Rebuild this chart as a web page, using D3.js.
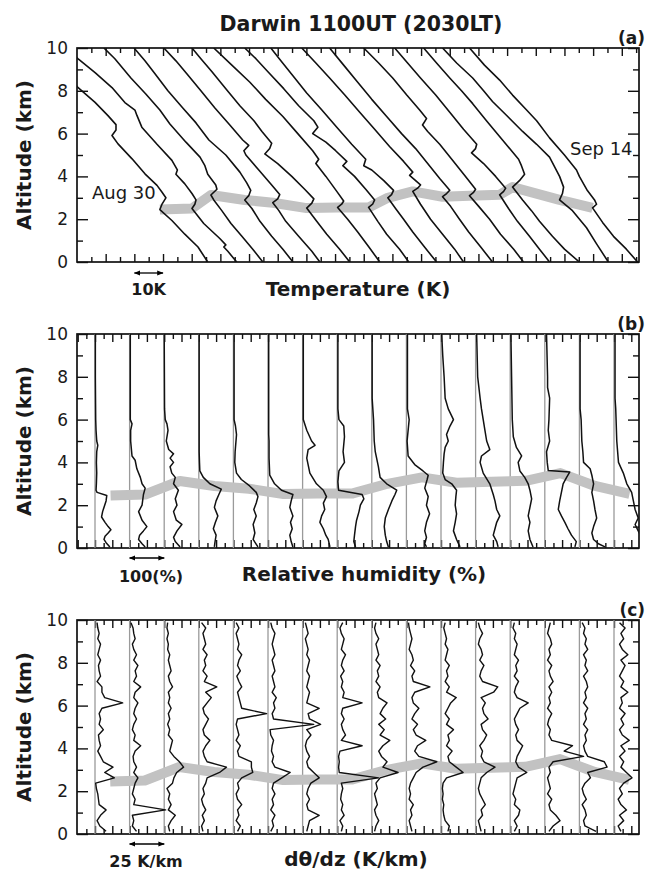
<!DOCTYPE html>
<html>
<head>
<meta charset="utf-8">
<script src="https://cdn.jsdelivr.net/npm/d3@7"></script>
<style>
  body { margin: 0; background: #fff; }
  svg { display: block; }
  text { font-family: "DejaVu Sans", sans-serif; fill: #1a1a1a; }
</style>
</head>
<body>
<script>
// ===== Dates (one sounding per day) =====
const dates = ["Aug 30", "Aug 31", "Sep 1", "Sep 2", "Sep 3", "Sep 4", "Sep 5", "Sep 6",
  "Sep 7", "Sep 8", "Sep 9", "Sep 10", "Sep 11", "Sep 12", "Sep 13", "Sep 14"];

// inversion base height (km) for each day -> thick grey line
const invHeight = [2.45, 2.5, 3.13, 2.9, 2.77, 2.52, 2.55, 2.55, 3.0, 3.3, 3.05, 3.1, 3.14, 3.5, 2.9, 2.53];

// ===== (a) temperature profiles : [altitude km, T (K)] =====
const t0830 = [[0,295.6],[0.7,292.2],[1.3,287.6],[1.94,283.1],[2.45,278.9],[2.69,279.6],[3.0,281.0],[3.27,279.6],[3.58,277.9],[4.12,273.7],[4.82,269.2],[5.52,264.3],[5.91,262.2],[6.17,263.6],[6.42,263.6],[6.84,260.8],[7.46,256.3],[8.16,250.3],[9,244.8],[10,238.9]];
const t0831 = [[0,295.7],[0.5,292.6],[0.7,291.2],[0.8,291.9],[1.1,289.8],[1.8,284.2],[2.5,280.1],[2.7,281.1],[2.9,281.5],[3.2,280.1],[3.65,277.6],[4.1,274.5],[4.3,275.0],[4.75,273.1],[5.5,267.9],[6.3,262.6],[6.85,260.9],[7.1,260.2],[7.45,256.7],[8.15,252.2],[8.85,246.3],[9.5,240.3],[10,236.2]];
const t0901 = [[0,294.8],[0.6,291.3],[1.2,287.5],[1.8,283.7],[2.4,280.5],[2.9,277.7],[3.13,276.7],[3.4,278.8],[3.6,278.4],[4.1,275.6],[4.5,274.6],[4.9,272.9],[5.6,268.0],[6.45,262.4],[7.1,258.9],[7.85,254.0],[8.6,248.8],[9.5,243.2],[10,239.4]];
const t0902 = [[0,295.3],[0.6,291.8],[1.2,287.9],[1.9,283.8],[2.5,281.0],[2.9,278.5],[3.1,279.9],[3.35,280.6],[3.7,279.2],[4.2,276.8],[5,271.9],[5.7,266.0],[6.5,261.5],[7.2,256.9],[8,251.7],[8.8,247.2],[9.4,243.7],[10,239.9]];
const t0903 = [[0,294.7],[0.5,291.9],[1.2,287.3],[1.9,282.8],[2.4,280.4],[2.77,278.3],[2.95,280.0],[3.15,280.7],[3.6,277.9],[4.3,273.4],[5.0,268.9],[5.2,268.2],[5.45,269.9],[5.7,267.8],[6.4,263.3],[7.2,258.1],[8,253.2],[8.8,248.3],[9.4,244.5],[10,240.3]];
const t0904 = [[0,295.1],[0.6,291.6],[1.3,287.1],[1.9,283.6],[2.52,280.1],[2.75,281.9],[2.95,282.6],[3.4,279.4],[4.0,274.9],[4.6,270.0],[5.05,265.5],[5.3,267.2],[5.55,267.9],[6.1,264.5],[6.6,261.7],[7.3,256.8],[8.1,251.9],[8.9,247.0],[9.5,243.2],[10,240.1]];
const t0905 = [[0,295.6],[0.7,291.8],[1.4,287.9],[2.0,284.4],[2.55,280.9],[2.7,282.3],[2.85,283.0],[3.3,280.6],[4.0,276.8],[4.6,273.3],[4.8,274.3],[5.2,272.2],[6.0,267.0],[6.8,261.8],[7.6,255.8],[8.4,250.3],[9.2,244.0],[10,237.7]];
const t0906 = [[0,295.7],[0.6,292.5],[1.3,288.0],[1.9,284.9],[2.55,281.7],[2.7,283.1],[2.9,283.8],[3.4,280.7],[4.0,276.8],[4.5,272.7],[4.7,274.1],[5.2,270.2],[5.6,266.8],[6.0,262.2],[6.3,264.0],[6.6,262.6],[7.3,257.3],[8.1,252.1],[8.9,246.5],[9.5,242.4],[10,238.5]];
const t0907 = [[0,295.4],[0.7,291.2],[1.4,287.1],[2.0,283.9],[2.5,281.1],[3.0,278.4],[3.15,279.7],[3.35,280.4],[3.8,277.0],[4.3,272.8],[4.5,270.0],[4.8,270.7],[5.5,265.8],[6.3,260.6],[7.1,255.4],[7.9,250.1],[8.7,245.3],[9.4,241.1],[10,237.6]];
const t0908 = [[0,294.8],[0.6,291.7],[1.3,287.5],[2.0,283.3],[2.7,279.8],[3.3,277.1],[3.45,278.8],[3.6,279.8],[4.05,276.0],[4.2,277.1],[4.7,273.9],[5.4,269.0],[6.2,263.8],[7.0,258.6],[7.8,253.4],[8.6,248.1],[9.3,243.3],[10,238.4]];
const t0909 = [[0,294.9],[0.7,290.8],[1.4,286.6],[2.0,283.4],[2.6,280.3],[3.05,277.5],[3.2,278.9],[3.35,280.0],[3.9,276.5],[4.6,272.3],[5.3,268.1],[6.0,263.2],[6.8,258.0],[7.6,252.8],[8.4,247.9],[9.2,243.0],[10,238.1]];
const t0910 = [[0,295.7],[0.6,292.3],[1.3,287.7],[2.0,283.9],[2.6,280.1],[3.1,276.9],[3.25,278.3],[3.4,279.0],[4.0,275.5],[4.8,270.7],[5.5,266.5],[6.1,262.3],[6.4,260.5],[6.7,261.9],[7.1,259.5],[7.8,255.0],[8.6,250.1],[9.3,245.2],[10,240.0]];
const t0911 = [[0,294.8],[0.6,291.3],[1.2,287.8],[1.9,283.6],[2.5,280.5],[3.14,277.4],[3.3,278.8],[3.45,279.5],[4.0,276.0],[4.6,271.8],[5.1,267.6],[5.3,269.0],[5.5,269.4],[6.2,264.8],[7.0,260.0],[7.8,255.1],[8.6,249.8],[9.3,245.3],[10,240.8]];
const t0912 = [[0,295.2],[0.6,290.0],[1.2,285.8],[1.9,281.3],[2.4,278.5],[2.9,275.4],[3.5,271.9],[3.8,274.3],[4.1,276.1],[4.5,275.0],[4.8,274.0],[5.7,268.4],[6.6,262.8],[7.4,258.0],[8.0,254.1],[8.6,250.0],[9.3,245.4],[10,240.9]];
const t0913 = [[0,295.3],[0.85,291.2],[1.6,287.7],[2.4,282.8],[2.9,278.3],[3.2,279.3],[3.5,279.7],[4.0,278.3],[4.9,274.8],[5.5,270.3],[6.1,265.4],[6.8,260.2],[7.5,254.9],[8.0,251.8],[8.6,248.0],[9.3,242.4],[10,237.5]];
const t0914 = [[0,295.5],[0.6,291.6],[1.2,287.1],[1.85,283.3],[2.53,279.8],[2.7,281.2],[2.9,280.5],[3.34,278.0],[4.0,275.2],[4.3,274.2],[5.0,270.0],[5.8,264.8],[6.6,260.3],[7.1,256.8],[7.8,251.9],[8.5,247.4],[9.2,242.1],[10,236.9]];
const tempProfiles = [t0830, t0831, t0901, t0902, t0903, t0904, t0905, t0906,
  t0907, t0908, t0909, t0910, t0911, t0912, t0913, t0914];
const tempStep = 10; // K between successive profiles

// ===== (b) relative humidity : [altitude km, RH (%)] =====
const rh0830 = [[10,1],[8,1],[6,2],[5.5,3],[5,5],[4.8,8],[4.5,5],[4,4],[3.5,5],[3,4],[2.7,3],[2.6,6],[2.45,34],[2.2,32],[2.0,28],[1.7,22],[1.45,19],[1.2,29],[1.0,38],[0.85,46],[0.7,38],[0.55,29],[0.4,26],[0.25,32],[0.05,43]];
const rh0831 = [[10,2],[8,2],[6,2],[5.8,7],[5.5,3],[5,3],[4.3,7],[4.1,16],[3.7,21],[3.3,31],[3.0,36],[2.8,45],[2.5,40],[2.0,36],[1.7,26],[1.3,36],[1.0,50],[0.8,40],[0.6,29],[0.4,26],[0.2,36],[0.05,45]];
const rh0901 = [[10,0],[6.5,1],[6,3],[5.8,8],[5.5,11],[5,6],[4.6,13],[4.4,27],[4.2,17],[4.0,27],[3.8,17],[3.5,22],[3.3,32],[3.0,27],[2.7,41],[2.3,32],[2.0,37],[1.7,27],[1.3,35],[1.1,51],[0.8,37],[0.5,27],[0.3,32],[0.05,46]];
const rh0902 = [[10,1],[6,1],[4.5,1],[4,2],[3.6,3],[3.3,13],[3.0,32],[2.75,65],[2.5,58],[2.2,50],[1.9,45],[1.5,55],[1.2,48],[0.9,42],[0.6,50],[0.3,47],[0.05,45]];
const rh0903 = [[10,2],[6,2],[5.7,6],[5.3,9],[4.5,5],[4.0,4],[3.5,9],[3.2,23],[2.9,47],[2.6,66],[2.4,71],[2.1,66],[1.8,59],[1.5,66],[1.1,57],[0.7,62],[0.4,57],[0.05,71]];
const rh0904 = [[10,2],[6,2],[5.3,2],[5.0,3],[4.2,3],[3.4,5],[3.0,19],[2.7,39],[2.5,72],[2.2,67],[1.9,63],[1.5,72],[1.2,65],[0.9,70],[0.6,63],[0.3,67],[0.05,72]];
const rh0905 = [[10,2],[6,2],[5.5,12],[5.0,26],[4.8,36],[4.6,16],[4.2,12],[3.5,21],[3.0,40],[2.7,60],[2.4,69],[2.1,60],[1.8,64],[1.5,55],[1.2,50],[0.9,60],[0.6,67],[0.4,74],[0.05,79]];
const rh0906 = [[10,2],[6.5,2],[6.0,5],[5.7,19],[5.2,21],[4.5,17],[4.0,21],[3.6,5],[3.1,2],[2.7,4],[2.5,72],[2.3,77],[2.0,67],[1.7,63],[1.3,56],[1.0,53],[0.6,50],[0.3,48],[0.05,53]];
const rh0907 = [[10,1],[7,1],[6,5],[5,7],[4.5,10],[3.8,19],[3.3,24],[3.0,43],[2.7,72],[2.5,67],[2.2,58],[1.8,48],[1.4,39],[1.0,36],[0.6,39],[0.3,43],[0.05,48]];
const rh0908 = [[10,3],[6.5,3],[6.0,8],[5.0,2],[4.3,5],[3.9,24],[3.6,48],[3.4,63],[3.2,60],[2.8,53],[2.4,63],[2.0,58],[1.6,67],[1.2,58],[0.8,53],[0.5,58],[0.2,53],[0.05,58]];
const rh0909 = [[10,2],[9,5],[8,9],[7,12],[6.5,21],[6.0,36],[5.7,26],[5.3,16],[5.0,21],[4.7,12],[4.4,9],[4.0,7],[3.5,5],[3.2,12],[3.0,31],[2.7,45],[2.4,43],[2.0,41],[1.6,45],[1.2,41],[0.8,36],[0.4,45],[0.05,55]];
const rh0910 = [[10,3],[8,6],[7,13],[6.5,17],[6.0,22],[5.5,27],[5.0,32],[4.6,41],[4.3,17],[4.0,13],[3.5,22],[3.0,41],[2.5,51],[2.2,56],[1.8,61],[1.5,70],[1.2,61],[0.9,56],[0.6,51],[0.3,61],[0.05,65]];
const rh0911 = [[10,2],[8,4],[6,6],[5.2,9],[4.7,18],[4.3,33],[4.0,23],[3.6,28],[3.3,42],[3.0,52],[2.7,57],[2.3,62],[1.9,57],[1.5,52],[1.2,57],[0.8,52],[0.4,57],[0.05,66]];
const rh0912 = [[10,5],[8,8],[7.5,8],[7.0,14],[6.0,12],[5.5,10],[5.0,14],[4.5,5],[4.0,7],[3.62,10],[3.55,72],[3.3,63],[3.0,53],[2.6,48],[2.2,43],[1.8,39],[1.5,48],[1.2,58],[0.9,67],[0.6,77],[0.3,91],[0.05,87]];
const rh0913 = [[10,2],[6.5,2],[6.0,5],[5.0,7],[4.5,10],[4.0,12],[3.7,31],[3.4,36],[3.0,41],[2.6,36],[2.2,41],[1.8,45],[1.4,50],[1.0,41],[0.7,36],[0.4,41],[0.2,55],[0.05,74]];
const rh0914 = [[10,3],[7,3],[6.5,5],[6,6],[5,8],[4,13],[3.5,27],[3,37],[2.6,51],[2.2,56],[1.8,61],[1.4,70],[1.1,61],[0.8,70],[0.5,80],[0.3,78],[0.05,85]];
const rhProfiles = [rh0830, rh0831, rh0901, rh0902, rh0903, rh0904, rh0905, rh0906,
  rh0907, rh0908, rh0909, rh0910, rh0911, rh0912, rh0913, rh0914];
const rhStep = 100; // %

// ===== (c) d(theta)/dz (K/km) at fixed levels =====
const dthLevels = [0.125,0.375,0.625,0.875,1.125,1.375,1.625,1.875,2.125,2.375,
  2.625,2.875,3.125,3.375,3.625,3.875,4.125,4.375,4.625,4.875,
  5.125,5.375,5.625,5.875,6.125,6.375,6.625,6.875,7.125,7.375,
  7.625,7.875,8.125,8.375,8.625,8.875,9.125,9.375,9.625,9.875];
const d0830 = [8,3.5,1.5,4,8,3,2.5,2,1,0.5,14,7,13,6,4,2,4,3,2.5,6,3,4,3,5,20,7,5,5,1.5,4,3,2.5,4,2,3,4,2,3,2,1.5];
const d0831 = [5,2,3,2,26,3,4,2,3,4,6,3,5,3,2.5,4,8,3,4,2,3,5,3,4,6,3,4,8,3,5,4,6,3,5,3,2,4,3,2.5,1];
const d0901 = [4,3,5,8,3,5,3,4,2,6,7,9,14,11,7,4,5,6,3,4,2.5,4,3,5,3,4,3,6,4,3,5,4,3,4,2.5,3,2,3,2,2.5];
const d0902 = [3,2,4,2.5,5,3,2,4,3,5,6,15,20,6,4,3,5,8,4,3,5,7,4,3,6,9,5,13,4,6,3,5,4,6,3,5,4,3,5,2];
const d0903 = [3,5,2,4,3,6,3,2,4,3,6,14,13,13,4,3,5,2,4,3,2,3,24,6,5,4,3,6,4,2.5,5,3,4,6,3,4,3,2,4,2];
const d0904 = [2,4,3,5,2,4,3,5,3,4,10,16,5,3,4,2.5,3,4,2,1.5,33,4,3,5,4,6,3,5,4,3,5,4,3,5,4,3,4,5,3,2];
const d0905 = [3,4,5,12,4,3,5,3,4,6,12,8,4,3,5,3,2,3,6,3,13,5,4,12,3,4,5,3,4,5,3,4,5,3,4,3,2,4,3,2];
const d0906 = [3,4,2,5,3,4,2.5,3,4,3,30,1.5,1,1.5,1,2,18,3,6,4,3,5,3,4,18,4,5,3,4,2.5,5,3,4,6,3,4,5,3,2,4];
const d0907 = [2,3,5,3,2,4,3,2,4,3,6,19,8,11,7,5,8,13,6,9,5,10,6,8,11,5,4,6,3,5,4,6,3,5,4,3,5,3,2,3];
const d0908 = [4,3,2,4,3,5,2,3,2,3,5,7,12,22,9,6,8,14,7,5,8,4,6,9,5,4,6,17,5,4,6,3,5,4,2,3,4,3,2,1.5];
const d0909 = [5,6,3,2,1.5,2,1,1.5,1,1.5,4,16,11,6,5,8,4,6,5,9,4,6,3,5,7,11,4,6,3,5,4,6,3,4,5,3,4,3,2,3];
const d0910 = [4,3,2,5,4,7,5,3,2,3,4,8,14,6,4,5,3,6,8,5,4,9,6,5,7,4,13,16,5,3,4,6,3,5,4,2,3,5,3,2];
const d0911 = [3,5,3,6,7,3,4,2,3,4,5,12,6,4,5,7,9,5,4,6,4,3,5,7,13,5,3,4,6,3,5,4,6,3,4,5,3,4,2,3];
const d0912 = [3,6,11,8,4,3,5,2,4,3,2,4,3,6,28,14,20,5,3,4,2,3,5,2,4,3,5,3,6,4,3,5,2,4,3,5,4,2,3,4];
const d0913 = [12,4,3,5,4,2,5,3,2,4,8,6,20,18,6,4,3,5,4,6,3,5,4,6,3,5,4,6,5,3,6,4,5,3,6,4,5,3,4,2];
const d0914 = [5,3,7,4,9,5,3,6,4,7,13,9,5,7,4,8,5,11,6,4,7,5,8,4,6,5,10,5,7,4,6,8,5,10,6,4,7,5,8,4];
const dthProfiles = [d0830, d0831, d0901, d0902, d0903, d0904, d0905, d0906,
  d0907, d0908, d0909, d0910, d0911, d0912, d0913, d0914];
const dthStep = 25; // K/km

// ===== Layout =====
const W = 649, H = 873;
const plotL = 77, plotR = 639, plotH = 214;
const base0 = 95, baseGap = 34.6; // first baseline and spacing in (b),(c)
const bandColor = "#c2c2c2";

const svg = d3.select("body").append("svg").attr("width", W).attr("height", H);

const defs = svg.append("defs");
defs.append("marker")
  .attr("id", "ah")
  .attr("viewBox", "0 0 10 10")
  .attr("refX", 9).attr("refY", 5)
  .attr("markerWidth", 5).attr("markerHeight", 5)
  .attr("orient", "auto-start-reverse")
  .append("path").attr("d", "M0,1L10,5L0,9z").attr("fill", "#000");

// scales for x
const xa = d3.scaleLinear().domain([250, 446]).range([plotL, plotR]);
const xb = d3.scaleLinear()
  .domain([(plotL - base0) / baseGap * rhStep, (plotR - base0) / baseGap * rhStep])
  .range([plotL, plotR]);
const xc = d3.scaleLinear()
  .domain([(plotL - base0) / baseGap * dthStep, (plotR - base0) / baseGap * dthStep])
  .range([plotL, plotR]);

// ===== helper : frame, ticks and labels of one panel =====
function drawPanel(top, x, xMajor, xMinor, tag, id) {
  const y = d3.scaleLinear().domain([0, 10]).range([top + plotH, top]);
  const g = svg.append("g");

  defs.append("clipPath").attr("id", id)
    .append("rect").attr("x", plotL).attr("y", top).attr("width", plotR - plotL).attr("height", plotH);

  const styleAxis = (sel) => {
    sel.select(".domain").remove();
    sel.selectAll("line").attr("stroke", "#111").attr("stroke-width", 1.4);
    sel.selectAll("text").style("font-size", "17px").attr("fill", "#1a1a1a");
  };

  g.append("g").attr("transform", `translate(0,${top + plotH})`)
    .call(d3.axisBottom(x).tickValues(xMajor).tickSize(-8).tickFormat("")).call(styleAxis);
  g.append("g").attr("transform", `translate(0,${top + plotH})`)
    .call(d3.axisBottom(x).tickValues(xMinor).tickSize(-5).tickFormat("")).call(styleAxis);
  g.append("g").attr("transform", `translate(0,${top})`)
    .call(d3.axisTop(x).tickValues(xMajor).tickSize(-8).tickFormat("")).call(styleAxis);
  g.append("g").attr("transform", `translate(0,${top})`)
    .call(d3.axisTop(x).tickValues(xMinor).tickSize(-5).tickFormat("")).call(styleAxis);

  g.append("g").attr("transform", `translate(${plotL},0)`)
    .call(d3.axisLeft(y).tickValues([0, 2, 4, 6, 8, 10]).tickSize(-11).tickPadding(9)).call(styleAxis);
  g.append("g").attr("transform", `translate(${plotL},0)`)
    .call(d3.axisLeft(y).tickValues([1, 3, 5, 7, 9]).tickSize(-6).tickFormat("")).call(styleAxis);
  g.append("g").attr("transform", `translate(${plotR},0)`)
    .call(d3.axisRight(y).tickValues([0, 2, 4, 6, 8, 10]).tickSize(-11).tickFormat("")).call(styleAxis);
  g.append("g").attr("transform", `translate(${plotR},0)`)
    .call(d3.axisRight(y).tickValues([1, 3, 5, 7, 9]).tickSize(-6).tickFormat("")).call(styleAxis);

  g.append("rect")
    .attr("x", plotL).attr("y", top)
    .attr("width", plotR - plotL).attr("height", plotH)
    .attr("fill", "none").attr("stroke", "#111").attr("stroke-width", 1.7);

  g.append("text")
    .attr("x", 645).attr("y", top - 4)
    .attr("text-anchor", "end")
    .style("font-size", "17px").style("font-weight", "bold")
    .text(tag);

  g.append("text")
    .attr("transform", `translate(31,${top + plotH / 2}) rotate(-90)`)
    .attr("text-anchor", "middle")
    .style("font-size", "20px").style("font-weight", "bold")
    .text("Altitude (km)");

  return y;
}

const inside = (lo, hi) => (v) => v > lo + 1 && v < hi - 1;

// ===============================
// (a) Temperature
// ===============================
const topA = 48;
const aMajor = d3.range(260, 446, 10);
const aMinor = d3.range(255, 446, 10);
const ya = drawPanel(topA, xa, aMajor, aMinor, "(a)", "clipA");

const layerA = svg.append("g").attr("clip-path", "url(#clipA)");

// T at inversion height, read on each profile
const tAt = (prof, h) => {
  const s = prof.slice().sort((p, q) => p[0] - q[0]);
  const i = d3.bisector((d) => d[0]).left(s, h);
  if (i <= 0) return s[0][1];
  if (i >= s.length) return s[s.length - 1][1];
  const a = s[i - 1], b = s[i];
  return a[1] + (b[1] - a[1]) * (h - a[0]) / (b[0] - a[0]);
};

layerA.append("path")
  .datum(invHeight.map((h, i) => [tAt(tempProfiles[i], h) + i * tempStep, h]))
  .attr("fill", "none")
  .attr("stroke", bandColor)
  .attr("stroke-width", 10)
  .attr("stroke-linejoin", "round")
  .attr("d", d3.line().x((d) => xa(d[0])).y((d) => ya(d[1])));

const lineA = d3.line().x((d) => xa(d.t)).y((d) => ya(d.z));
tempProfiles.forEach((prof, i) => {
  layerA.append("path")
    .datum(prof.map((p) => ({ z: p[0], t: p[1] + i * tempStep })))
    .attr("fill", "none")
    .attr("stroke", "#111")
    .attr("stroke-width", 1.6)
    .attr("stroke-linejoin", "round")
    .attr("d", lineA);
});

svg.append("text").attr("x", 92).attr("y", 199).style("font-size", "18px").text(dates[0]);
svg.append("text").attr("x", 570).attr("y", 155).style("font-size", "18px").text(dates[15]);

svg.append("text")
  .attr("x", 361).attr("y", 31)
  .attr("text-anchor", "middle")
  .style("font-size", "20.5px").style("font-weight", "bold")
  .text("Darwin 1100UT (2030LT)");

svg.append("line")
  .attr("x1", xa(270)).attr("x2", xa(280)).attr("y1", 273).attr("y2", 273)
  .attr("stroke", "#000").attr("stroke-width", 1.3)
  .attr("marker-start", "url(#ah)").attr("marker-end", "url(#ah)");
svg.append("text").attr("x", xa(275)).attr("y", 295).attr("text-anchor", "middle")
  .style("font-size", "16px").style("font-weight", "bold").text("10K");
svg.append("text").attr("x", 358).attr("y", 296).attr("text-anchor", "middle")
  .style("font-size", "20px").style("font-weight", "bold").text("Temperature (K)");

// ===============================
// (b) Relative humidity
// ===============================
const topB = 334;
const bTicks = d3.range(-50, 1575, 25).filter(inside(xb.domain()[0], xb.domain()[1]));
const yb = drawPanel(topB, xb, bTicks.filter((v) => v % 50 === 0), bTicks.filter((v) => v % 50 !== 0), "(b)", "clipB");
const layerB = svg.append("g").attr("clip-path", "url(#clipB)");

layerB.selectAll("line.base")
  .data(rhProfiles)
  .enter()
  .append("line")
  .attr("x1", (d, i) => xb(i * rhStep)).attr("x2", (d, i) => xb(i * rhStep))
  .attr("y1", topB).attr("y2", topB + plotH)
  .attr("stroke", "#9a9a9a").attr("stroke-width", 1.3);

layerB.append("path")
  .datum(invHeight.map((h, i) => [i * rhStep + 45, h]))
  .attr("fill", "none").attr("stroke", bandColor).attr("stroke-width", 10)
  .attr("stroke-linejoin", "round")
  .attr("d", d3.line().x((d) => xb(d[0])).y((d) => yb(d[1])));

rhProfiles.forEach((prof, i) => {
  layerB.append("path")
    .datum(prof)
    .attr("fill", "none").attr("stroke", "#111").attr("stroke-width", 1.5)
    .attr("stroke-linejoin", "round")
    .attr("d", d3.line().x((d) => xb(d[1] + i * rhStep)).y((d) => yb(d[0])));
});

svg.append("line")
  .attr("x1", xb(100)).attr("x2", xb(200)).attr("y1", 558).attr("y2", 558)
  .attr("stroke", "#000").attr("stroke-width", 1.3)
  .attr("marker-start", "url(#ah)").attr("marker-end", "url(#ah)");
svg.append("text").attr("x", 151).attr("y", 582).attr("text-anchor", "middle")
  .style("font-size", "16px").style("font-weight", "bold").text("100(%)");
svg.append("text").attr("x", 364).attr("y", 581).attr("text-anchor", "middle")
  .style("font-size", "20px").style("font-weight", "bold").text("Relative humidity (%)");

// ===============================
// (c) d(theta)/dz
// ===============================
const topC = 620;
const cTicks = d3.range(-12.5, 400, 6.25).filter(inside(xc.domain()[0], xc.domain()[1]));
const yc = drawPanel(topC, xc, cTicks.filter((v) => v % 12.5 === 0), cTicks.filter((v) => v % 12.5 !== 0), "(c)", "clipC");
const layerC = svg.append("g").attr("clip-path", "url(#clipC)");

layerC.selectAll("line.base")
  .data(dthProfiles)
  .enter()
  .append("line")
  .attr("x1", (d, i) => xc(i * dthStep)).attr("x2", (d, i) => xc(i * dthStep))
  .attr("y1", topC).attr("y2", topC + plotH)
  .attr("stroke", "#9a9a9a").attr("stroke-width", 1.3);

layerC.append("path")
  .datum(invHeight.map((h, i) => [i * dthStep + 11, h]))
  .attr("fill", "none").attr("stroke", bandColor).attr("stroke-width", 10)
  .attr("stroke-linejoin", "round")
  .attr("d", d3.line().x((d) => xc(d[0])).y((d) => yc(d[1])));

dthProfiles.forEach((vals, i) => {
  layerC.append("path")
    .datum(vals.map((v, k) => [v + i * dthStep, dthLevels[k]]))
    .attr("fill", "none").attr("stroke", "#111").attr("stroke-width", 1.4)
    .attr("stroke-linejoin", "round")
    .attr("d", d3.line().x((d) => xc(d[0])).y((d) => yc(d[1])));
});

svg.append("line")
  .attr("x1", xc(25)).attr("x2", xc(50)).attr("y1", 844).attr("y2", 844)
  .attr("stroke", "#000").attr("stroke-width", 1.3)
  .attr("marker-start", "url(#ah)").attr("marker-end", "url(#ah)");
svg.append("text").attr("x", 146).attr("y", 867).attr("text-anchor", "middle")
  .style("font-size", "16px").style("font-weight", "bold").text("25 K/km");
svg.append("text").attr("x", 356).attr("y", 866).attr("text-anchor", "middle")
  .style("font-size", "20px").style("font-weight", "bold").text("dθ/dz (K/km)");
</script>
</body>
</html>
